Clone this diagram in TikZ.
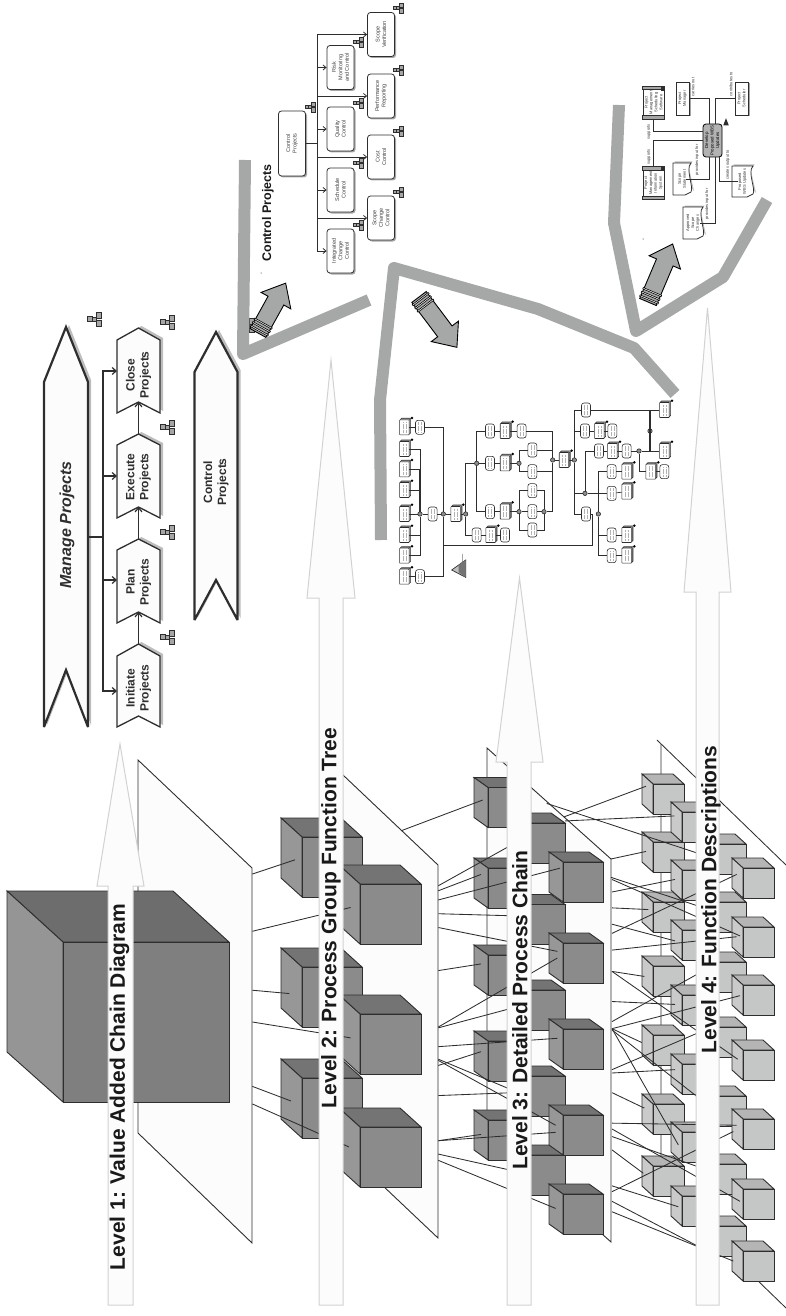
\documentclass[tikz,border=0pt]{standalone}
\usepackage{fontspec}
\setmainfont{Liberation Sans}
\usepackage{xcolor}
\usetikzlibrary{arrows.meta, positioning, calc, shadows}

\definecolor{bandgray}{HTML}{A6A8A7}
\definecolor{nearwhite}{HTML}{FCFCFC}
\definecolor{arrowrim}{HTML}{D2D2D2}
\definecolor{inkgray}{HTML}{2E2E2E}
\definecolor{chevshade}{HTML}{BDBDBD}
\definecolor{darkFront}{HTML}{8B8B8B}
\definecolor{darkTop}{HTML}{747474}
\definecolor{darkSide}{HTML}{979797}
\definecolor{paleFront}{HTML}{C5C7C6}
\definecolor{paleTop}{HTML}{B4B5B4}
\definecolor{paleSide}{HTML}{C9CAC9}
\definecolor{mainfront}{HTML}{7F7F7F}
\definecolor{maintop}{HTML}{6D6D6D}
\definecolor{mainside}{HTML}{959595}

% front top left corner at #1,#2 / width #3 / height #4 / depth #5,#6 / tone #7
\newcommand{\blockcube}[7]{
  \draw[cubeedge, fill=#7Top] ({#1-#5},{#2-#6}) -- ({#1+#3-#5},{#2-#6}) -- ({#1+#3},#2) -- (#1,#2) -- cycle;
  \draw[cubeedge, fill=#7Side] ({#1-#5},{#2-#6}) -- (#1,#2) -- (#1,{#2+#4}) -- ({#1-#5},{#2+#4-#6}) -- cycle;
  \draw[cubeedge, fill=#7Front] (#1,#2) rectangle ({#1+#3},{#2+#4});
}
% name / centre x / half width / tip / shoulder / bottom / notch / line width
\newcommand{\chevron}[8]{
  \fill[chevshade] ({#2+3},{#4-2}) -- ({#2+#3+3},{#5-2}) -- ({#2+#3+3},{#6-2}) -- ({#2+3},{#7-2}) -- ({#2-#3+3},{#6-2}) -- ({#2-#3+3},{#5-2}) -- cycle;
  \draw[draw=inkgray, fill=nearwhite, line width=#8, miter limit=4] (#2,#4) -- ({#2+#3},#5) -- ({#2+#3},#6) -- (#2,#7) -- ({#2-#3},#6) -- ({#2-#3},#5) -- cycle;
  \coordinate (#1-tip) at (#2,#4);
  \coordinate (#1-notch) at (#2,#7);
}
% centre x,y / scale
\newcommand{\orgicon}[3]{
  \begin{scope}[shift={(#1,#2)}, scale=#3]
    \draw[iconbox] (-7,-3) rectangle (-2,2);
    \draw[iconbox] (-2,-2) rectangle (2,2);
    \draw[iconbox] (2,-7) rectangle (7,-1);
    \draw[iconbox] (2,1) rectangle (7,7);
  \end{scope}
}
% tail x,y / angle / length
\newcommand{\blockarrow}[4]{
  \begin{scope}[shift={(#1,#2)}, rotate=#3]
    \draw[arrowbody] (0,-9) -- ({#4-20},-9) -- ({#4-20},-17) -- (#4,0) -- ({#4-20},17) -- ({#4-20},9) -- (0,9) -- cycle;
    \foreach \s in {2,6,10} \draw[arrowbody, fill=white, line width=.6] ({\s},-10) rectangle ({\s+1.5},10);
  \end{scope}
}
% name / centre x,y / width,height / text
\newcommand{\docbox}[6]{
  \begin{scope}[shift={(#2,#3)}]
    \fill[chevshade] ({-#4/2+1.5},{-#5/2-1.5}) -- ({#4/2+1.5},{-#5/2-1.5}) -- ({#4/2-2},{-#5/2+5}) -- ({#4/2+3},{#5/2-4}) -- (1,-1) -- cycle;
    \draw[draw=inkgray, fill=white, line width=.7] ({-#4/2},{-#5/2}) -- ({#4/2},{-#5/2}) .. controls ({#4/2-6},{-#5/2+6}) and ({#4/2+3},{#5/2-8}) .. ({#4/2},{#5/2-3}) -- ({#4/2-6},{#5/2}) -- ({-#4/2},{#5/2}) -- cycle;
  \end{scope}
  \node[tinytext, inner sep=0pt] (#1) at (#2,#3) {#6};
}

\begin{document}
\begin{tikzpicture}[
    x=1pt, y=-1pt,
    cubeedge/.style={draw=inkgray, line width=.9},
    wire/.style={draw=inkgray, line width=.85},
    plane/.style={draw=inkgray, line width=.9, fill=nearwhite},
    levelarrow/.style={draw=arrowrim, line width=1, fill=nearwhite},
    leveltext/.style={rotate=90, font=\bfseries\fontsize{21}{24}\selectfont, text=black!90, inner sep=0pt},
    chevtext/.style={rotate=90, font=\bfseries\fontsize{12}{14}\selectfont, text=inkgray, align=center, inner sep=0pt},
    band/.style={draw=bandgray, line width=12, line join=round},
    iconbox/.style={draw=inkgray, line width=.7, fill=black!35},
    arrowbody/.style={draw=black, line width=.9, fill=bandgray, line join=miter},
    treebox/.style={rectangle, rounded corners=3, rotate=90, draw=inkgray, line width=.8, fill=white,
        drop shadow={shadow xshift=1.5pt, shadow yshift=-1.5pt, fill=black!35, opacity=1},
        minimum width=44, minimum height=27, inner sep=0pt, align=center, text=black!75,
        font=\fontsize{5.5}{6.5}\selectfont},
    treelink/.style={draw=inkgray, line width=.8},
    treetip/.style={treelink, -{Straight Barb[length=3pt, width=5pt]}},
    chevlink/.style={draw=inkgray, line width=1.2, -{Straight Barb[length=4pt, width=7pt]}},
    tinytext/.style={rotate=90, align=center, text=black!80, font=\fontsize{4}{4.9}\selectfont},
    toolbox/.style={rectangle, rotate=90, draw=inkgray, line width=.8, fill=white, inner sep=0pt,
        align=center, text=black!80, font=\fontsize{4}{4.9}\selectfont},
    activity/.style={rectangle, rounded corners=3, rotate=90, draw=black, line width=.8, fill=black!30, inner sep=0pt,
        minimum width=33, minimum height=19, align=center, font=\fontsize{4.4}{5.4}\selectfont},
    orgrole/.style={toolbox, minimum width=33, minimum height=13,
        drop shadow={shadow xshift=1.5pt, shadow yshift=-1.5pt, fill=black!35, opacity=1}},
    appsystem/.style={toolbox, minimum width=32, minimum height=21,
        drop shadow={shadow xshift=1pt, shadow yshift=-1pt, fill=black!30, opacity=1}},
    appbar/.style={draw=inkgray, line width=.5, fill=black!35},
    flowlink/.style={draw=inkgray, line width=.9},
    smudge/.style={draw=black!30, line width=.45, dash pattern=on .8pt off .4pt},
    fn/.style={rectangle, rounded corners=2.5, draw=inkgray, line width=.6, fill=white, inner sep=0pt,
        minimum width=9, minimum height=14,
        path picture={
          \draw[smudge] ([xshift=-1.5pt,yshift=2pt]path picture bounding box.south) -- ([xshift=-1.5pt,yshift=-2pt]path picture bounding box.north);
          \draw[smudge] ([xshift=1.5pt,yshift=2pt]path picture bounding box.south) -- ([xshift=1.5pt,yshift=-2pt]path picture bounding box.north);}},
    dc/.style={fn, rounded corners=.5, minimum width=9.5, minimum height=15,
        double copy shadow={shadow xshift=.8pt, shadow yshift=.8pt}},
    op/.style={circle, draw=inkgray, line width=.6, fill=black!45, inner sep=0pt, minimum size=4.4},
    chain/.style={draw=inkgray, line width=.7},
    chainbus/.style={draw=inkgray, line width=1.6}
]
\useasboundingbox (0,0) rectangle (786,1316);

% Level 1
\draw[plane] (138,760) -- (252,868) -- (252,1243) -- (138,1133) -- cycle;
\draw[cubeedge, fill=maintop] (7,891) -- (173,891) -- (229,942) -- (63,942) -- cycle;
\draw[cubeedge, fill=mainside] (7,891) -- (63,942) -- (63,1102) -- (7,1052) -- cycle;
\draw[cubeedge, fill=mainfront] (63,942) rectangle (229,1102);

% Level 2
\draw[plane] (324,757) -- (438,865) -- (438,1238) -- (324,1130) -- cycle;
\foreach \y in {837,967,1078} {\blockcube{302}{\y}{60}{60}{21}{19}{dark}}
\foreach \y in {884,1014,1127} {\blockcube{360}{\y}{61}{60}{21}{19}{dark}}

% Level 3
\draw[plane] (487,748) -- (611,859) -- (611,1242) -- (487,1131) -- cycle;
\foreach \y in {787.5,868,955,1041,1120} {\blockcube{488}{\y}{40}{40}{14}{10}{dark}}
\foreach \y in {823,904.5,990,1076,1155} {\blockcube{525}{\y}{40}{40}{14}{10}{dark}}
\foreach \y in {862,943,1029,1115,1194} {\blockcube{563}{\y}{40}{40}{14}{10}{dark}}

% Level 4
\draw[wire] (657,740) -- (786,865);
\draw[wire] (661,744) -- (661,1187) -- (786,1308);
\foreach \y in {784,842,902,966,1035,1104,1166} {\blockcube{653}{\y}{31}{30}{11}{10}{pale}}
\foreach \y in {812,870,930,995,1064,1132,1196} {\blockcube{682}{\y}{31}{30}{11}{10}{pale}}
\foreach \y in {844,902,962,1027,1096,1164,1226} {\blockcube{715}{\y}{31}{30}{11}{10}{pale}}
\foreach \y in {868,927,985,1050,1119,1189,1251} {\blockcube{743}{\y}{31}{30}{11}{10}{pale}}

% Links between the levels
\begin{scope}[shift={(0,660)}, x=.33333pt, y=-.418pt]
  \foreach \ax/\ay/\bx/\by in {757/512/885/478, 757/649/1052/592, 757/790/868/798, 757/866/1052/904,
      757/1020/873/1055, 757/1062/1047/1165} \draw[wire] (\ax,\ay) -- (\bx,\by);
\end{scope}
\begin{scope}[shift={(400,660)}, x=.33333pt, y=-.418pt]
  \foreach \ax/\ay/\bx/\by in {5/408/248/335, 115/540/340/440, 115/552/243/513, 115/574/480/498,
      115/607/340/612, 115/640/472/697, 115/743/243/727, 115/878/472/713, 115/880/340/832,
      115/925/472/905, 115/970/243/937, 115/958/467/1113, 115/955/340/1030, 115/1042/340/1035,
      115/1150/243/1135, 115/1150/467/1130, 115/1182/340/1222, 115/1197/467/1312} \draw[wire] (\ax,\ay) -- (\bx,\by);
  \foreach \ax/\ay/\bx/\by in {493/375/738/302, 495/385/823/373, 440/343/900/464, 633/476/738/458,
      633/520/900/590, 636/525/1020/660, 636/555/825/525, 636/593/745/597, 636/632/825/672,
      636/654/1010/513, 636/694/1010/662, 636/745/733/757, 636/745/1013/955, 636/817/825/824,
      636/865/900/748, 636/882/1020/803, 636/882/725/915, 636/882/835/1160, 636/885/900/1050,
      636/980/900/890, 636/988/825/980, 636/1035/733/1072, 636/1108/1010/1113,
      636/1122/1020/1295, 636/1140/900/1214, 636/1172/730/1228, 636/1272/1000/1128,
      636/1258/835/1308, 636/1295/900/1405, 636/1320/1000/1438} \draw[wire] (\ax,\ay) -- (\bx,\by);
\end{scope}

% Level arrows
\draw[levelarrow] (120,744) -- (144,886) -- (133,886) -- (133,1305) -- (108,1305) -- (108,886) -- (97,886) -- cycle;
\draw[levelarrow] (331,360) -- (355,598) -- (343,598) -- (343,1305) -- (319,1305) -- (319,598) -- (307,598) -- cycle;
\draw[levelarrow] (519.5,578) -- (543,762) -- (531,762) -- (531,1305) -- (507,1305) -- (507,762) -- (496,762) -- cycle;
\draw[levelarrow] (707.5,308) -- (731,592) -- (719,592) -- (719,1305) -- (696,1305) -- (696,592) -- (684,592) -- cycle;

\node[leveltext] (levelone) at (119.5,1087) {Level 1: Value Added Chain Diagram};
\node[leveltext] (leveltwo) at (331,918) {Level 2: Process Group Function Tree};
\node[leveltext] (levelthree) at (520,1010) {Level 3: Detailed Process Chain};
\node[leveltext] (levelfour) at (711,899.5) {Level 4: Function Descriptions};

% Value chain
\chevron{manage}{66}{22}{327}{382}{727}{670}{2.2}
\chevron{control}{216}{21.5}{332}{372}{620}{580}{2.2}
\chevron{close}{138.5}{21.5}{328}{340}{413}{402}{1.3}
\chevron{execute}{138.5}{21.5}{434}{445}{518}{507}{1.3}
\chevron{plan}{138.5}{21.5}{539}{550}{623}{612}{1.3}
\chevron{initiate}{138.5}{21.5}{644}{656}{727}{716}{1.3}

\node[rotate=90, font=\bfseries\itshape\fontsize{16}{18}\selectfont, text=inkgray, inner sep=0pt] (managetext) at (67,525) {Manage Projects};
\node[chevtext] (controltext) at (216,482) {Control\\Projects};
\node[chevtext] (closetext) at (138.5,375) {Close\\Projects};
\node[chevtext] (executetext) at (138.5,477) {Execute\\Projects};
\node[chevtext] (plantext) at (138.5,582) {Plan\\Projects};
\node[chevtext] (initiatetext) at (138.5,688) {Initiate\\Projects};

\coordinate (managefoot) at (88,537);
\coordinate (managebus) at (103,537);
\coordinate (closein) at (117,371);
\coordinate (executein) at (117,476);
\coordinate (planin) at (117,580);
\coordinate (initiatein) at (117,691);
\draw[draw=inkgray, line width=2] (managefoot) -- (managebus);
\foreach \n in {closein,executein,planin,initiatein} \draw[chevlink] (managebus) |- (\n);
\draw[chevlink] (initiate-tip) -- (plan-notch);
\draw[chevlink] (plan-tip) -- (execute-notch);
\draw[chevlink] (execute-tip) -- (close-notch);

\foreach \y in {322,427,532,637} {\orgicon{167}{\y}{1}}
\orgicon{94}{319}{1}
\orgicon{247}{325}{1}

% Grey bands
\draw[band] (245,160) -- (243,354) -- (369,300);
\draw[band] (381,540) -- (380,400) -- (394,268) -- (538,309) -- (634,348) -- (675,394);
\draw[band] (619,105) -- (614,223) -- (636,331) -- (723,277) -- (767,200);

\blockarrow{258}{333}{61}{57}
\blockarrow{419}{297}{-53}{63}
\blockarrow{648}{302}{67}{63}

% Function tree
\node[rotate=90, font=\bfseries\fontsize{12.5}{14}\selectfont, text=black!90, inner sep=0pt] (treetitle) at (268,213) {Control Projects};
\node[treebox, minimum width=65] (root) at (292,143.5) {Control\\Projects};
\node[treebox] (risk) at (340.5,67.5) {Risk\\Monitoring\\and Control};
\node[treebox] (quality) at (340.5,129) {Quality\\Control};
\node[treebox] (schedule) at (340.5,190) {Schedule\\Control};
\node[treebox] (integrated) at (340.5,251) {Integrated\\Change\\Control};
\node[treebox] (verification) at (381,34.5) {Scope\\Verification};
\node[treebox] (performance) at (381,96) {Performance\\Reporting};
\node[treebox] (cost) at (381,157) {Cost\\Control};
\node[treebox] (scopechange) at (381,218) {Scope\\Change\\Control};

\coordinate (treebus) at (317,143.5);
\draw[treelink, line width=1.8] (root.south) -- (treebus);
\foreach \n in {risk,quality,schedule,integrated,verification,performance,cost,scopechange}
  \draw[treetip] (treebus) |- (\n.north);

\orgicon{310}{107}{.7}
\foreach \y in {42,103,163,225} {\orgicon{358}{\y}{.7}}
\foreach \y in {8,70,131,192} {\orgicon{398}{\y}{.7}}

% Function description
\node[activity] (proposal) at (712.5,140.5) {Develop\\Proposed WBS\\Updates};
\node[appsystem] (software) at (653.5,102.5) {Project\\Management\\Scheduling\\Software};
\node[appsystem] (infosystem) at (653.5,183) {Project\\Management\\Information\\System};
\node[orgrole] (manager) at (682.5,98.5) {Project\\Manager};
\node[orgrole] (scheduler) at (741.5,98.5) {Project\\Scheduler};
\docbox{statement}{682}{179}{18}{32}{Scope\\Statement}
\docbox{approved}{693}{223}{20}{32}{Approved\\Scope\\Changes}
\docbox{wbsupdate}{742.5}{181.5}{21}{31}{Proposed\\WBS Updates}

\foreach \n in {software,infosystem} {
  \draw[appbar] (\n.north west) rectangle ([yshift=3.5pt]\n.south west);
  \draw[appbar] (\n.north east) rectangle ([yshift=-3.5pt]\n.south east);
  \fill[inkgray] ([xshift=-3pt,yshift=-.5pt]\n.south east) rectangle ++(2.5,4);
}

\draw[flowlink] (software.west) |- ([yshift=9.5pt]proposal.north);
\draw[flowlink] (infosystem.east) |- (proposal.north);
\draw[flowlink] (manager.south) -| ([xshift=-3.5pt]proposal.east);
\draw[flowlink] (scheduler.north) -| ([xshift=2.5pt]proposal.east);
\draw[flowlink] (statement.south) -| ([xshift=-3.5pt]proposal.west);
\draw[flowlink] (approved.south) -| ([xshift=2.5pt]proposal.west);
\draw[flowlink] ([xshift=6.5pt]proposal.west) |- (wbsupdate.north);

\node[tinytext] (supportone) at (649,132) {supports};
\node[tinytext] (supporttwo) at (649,157) {supports};
\node[tinytext] (carries) at (693,87) {carries out};
\node[tinytext] (contributes) at (731,84) {contributes to};
\node[tinytext] (inputone) at (697,160) {provides input for};
\node[tinytext] (inputtwo) at (707,204) {provides input for};
\node[tinytext] (creates) at (728,165) {creates output to};

\begin{scope}[shift={(726,122)}, scale=.55]
  \fill[inkgray] (-5,6) -- (0,-7) -- (5,6) -- cycle;
\end{scope}

% Process chain
\begin{scope}[shift={(370,370)}, x=.33333pt, y=-.33333pt]
  \foreach \n/\u/\v in {fa/150/172, fb/150/620, fc/188/432, fd/360/183, fe/455/183, ff/360/280, fg/487/240, fh/487/305,
      fi/360/425, fj/487/362, fk/487/425, fl/487/480, fm/320/495, fn/405/495, fo/648/120, fp/645/183, fq/727/183,
      fr/648/432, fs/687/243, ft/770/243, fu/883/305, fv/725/305, fw/725/370, fx/725/495, fy/725/557}
    \node[fn] (\n) at (\u,\v) {};
  \foreach \n/\u/\v in {da/103/172, db/103/237, dc/103/298, dd/103/360, de/103/432, df/103/495, dg/103/557, dh/103/620,
      di/257/432, dj/405/183, dk/405/280, dl/405/425, dm/582/270, dn/362/495, do/688/183, dp/727/243,
      dq/883/120, dr/883/243, ds/842/305, dt/770/305, du/770/365, dv/770/495, dw/770/557} {
    \node[dc] (\n) at (\u,\v) {};
    \fill[black] (\n) ++(23,-28) circle (1.4pt);
  }
  \foreach \n/\u/\v in {oa/150/432, ob/220/432, oc/287/432, od/320/280, oe/447/280, og/447/425, oh/522/425, oi/548/270,
      oj/613/270, ok/645/370, ol/685/432, om/807/243, oo/840/183}
    \node[op] (\n) at (\u,\v) {};
  \coordinate (lowturn) at (667,525);

  \foreach \a/\b in {da/fa, dh/fb, oa/fc, fc/ob, ob/di, di/oc, fd/dj, dj/fe, ff/dk, dk/oe, od/ff, fi/dl, dl/og, og/fk, fk/oh,
      oi/dm, dm/oj, fp/do, do/fq, fs/dp, dp/ft, ft/om, fv/dt, fw/du, fx/dv, fy/dw, ds/fu, fm/dn, dn/fn, de/oa}
    \draw[chain] (\a) -- (\b);
  \foreach \a/\b in {fa/ob, fb/ob, db/oa, dc/oa, dd/oa, df/oa, dg/oa, fe/oi, fg/oi, fh/oi, oh/oi, fj/oh, fl/oh}
    \draw[chain] (\a) -| (\b);
  \foreach \a/\b in {oc/od, oc/fm, od/fd, od/fi, oe/fg, oe/fh, og/fj, og/fl, oj/fo, oj/fp, oj/fr, oj/ok, ok/fs,
      ol/fv, ol/fw, ol/fx, ol/fy, om/ds}
    \draw[chain] (\a) |- (\b);
  \draw[chain] (ob) |- (lowturn) |- (fr);
  \draw[chain] (fo) -- (dq);
  \draw[chain] (om) -- (dr);
  \draw[chain] (ok) -| (ol);
  \draw[chainbus] (oa) -- (oa|-dc);
  \draw[chainbus] (ob) -- (ob|-lowturn);
  \draw[chainbus] (ol) -- (ol|-fv);
  \draw[chainbus] (oo|-fo) -- (oo|-om);

  % Start symbol
  \draw[draw=black!35, line width=1.2pt] (278,552) -- (278,578);
  \draw[draw=inkgray, line width=.7pt, fill=black!25] (245,600) -- (287,570) -- (287,622) -- cycle;
  \fill[black!55] (266,585) -- (287,570) -- (287,622) -- (266,607) -- cycle;
\end{scope}

\fill[black] (261,273) circle (.5);
\fill[black] (643,239) circle (.5);

\end{tikzpicture}
\end{document}
